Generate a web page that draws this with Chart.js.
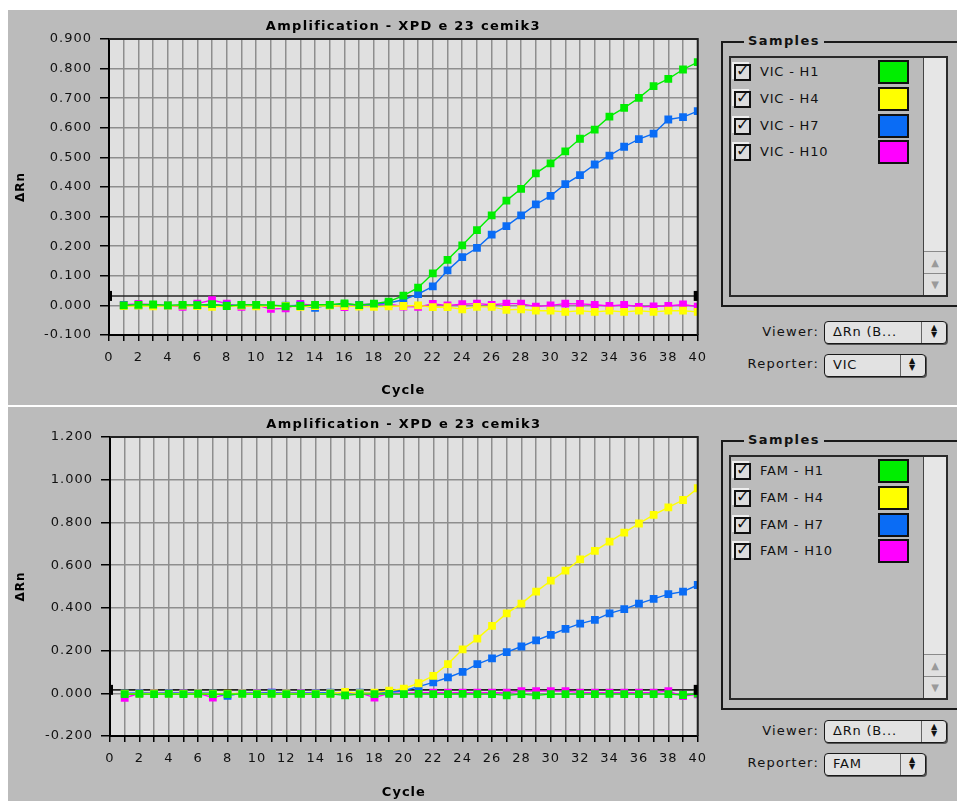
<!DOCTYPE html>
<html><head><meta charset="utf-8">
<script src="https://cdn.jsdelivr.net/npm/chart.js@4.4.1/dist/chart.umd.min.js"></script>
<style>
html,body{margin:0;padding:0;background:#fff;width:957px;height:801px;overflow:hidden;font-family:"DejaVu Sans",sans-serif;}
.panel{position:absolute;left:8px;width:949px;background:#bbbbbb;}
canvas{position:absolute;left:0;}
.group{position:absolute;border:2px solid #1a1a1a;border-right:none;box-sizing:border-box;}
.gtitle{position:absolute;font-weight:bold;font-size:13px;letter-spacing:1.4px;background:#bbbbbb;padding:0 4px;color:#111;line-height:16px;}
.list{position:absolute;border:2px solid #2a2a2a;box-sizing:border-box;}
.track{position:absolute;background:#e6e6e6;border-left:1px solid #444;box-sizing:border-box;}
.arrowbox{position:absolute;left:0;right:0;border-top:1px solid #8a8a8a;background:#e0e0e0;color:#9a9a9a;font-size:10px;text-align:center;box-sizing:border-box;}
.chk{position:absolute;width:17px;height:17px;border:2px solid #111;background:#dcdcdc;box-shadow:-2px -2px 0 #eee;box-sizing:border-box;}
.chk span{position:absolute;left:0px;top:-5px;font-size:16px;font-weight:bold;color:#111;}
.name{position:absolute;font-size:13px;letter-spacing:0.8px;color:#111;white-space:nowrap;line-height:16px;}
.sw{position:absolute;width:31px;height:24px;border:2px solid #111;box-sizing:border-box;}
.lab{position:absolute;font-size:13px;letter-spacing:1.2px;color:#111;text-align:right;width:90px;line-height:16px;}
.dd{position:absolute;border:1.5px solid #1a1a1a;border-radius:4px;background:#e2e2e2;box-shadow:1px 1px 0 #555;box-sizing:border-box;}
.dd .t{position:absolute;left:8px;top:2px;font-size:13px;letter-spacing:0.8px;color:#111;white-space:nowrap;line-height:16px;}
.dd .sep{position:absolute;top:0;bottom:0;border-left:1px solid #666;}
.dd .arr{position:absolute;top:2px;font-size:8px;line-height:7px;color:#111;text-align:center;width:10px;}
</style>
</head><body>
<div class="panel" style="top:10px;height:395px;"></div>
<div class="panel" style="top:407px;height:394px;"></div>
<canvas id="c1" style="top:0px;" width="715" height="404"></canvas>
<canvas id="c2" style="top:404px;" width="715" height="397"></canvas>
<div id="legends"></div>
<script>
// ---------------- DATA ----------------
const cycles = [1,2,3,4,5,6,7,8,9,10,11,12,13,14,15,16,17,18,19,20,21,22,23,24,25,26,27,28,29,30,31,32,33,34,35,36,37,38,39,40];
const chartTitle = "Amplification - XPD e 23 cemik3";
const yAxisTitle = "ΔRn";
const xAxisTitle = "Cycle";
const sampleWells = ["H1", "H4", "H7", "H10"];
const seriesColors = ["#00ee00", "#ffff00", "#0a6cf5", "#ff00ff"];

// VIC reporter (top panel)
const vicH1 = [0.000,0.002,0.003,0.000,0.002,0.001,0.004,-0.002,0.002,0.002,0.001,-0.003,-0.002,0.002,0.002,0.007,0.001,0.006,0.013,0.033,0.060,0.108,0.154,0.203,0.254,0.304,0.354,0.394,0.446,0.480,0.520,0.563,0.594,0.638,0.667,0.701,0.741,0.765,0.797,0.822];
const vicH4 = [-0.002,-0.001,-0.003,-0.001,-0.001,-0.002,-0.005,-0.002,-0.001,-0.003,-0.001,-0.002,-0.005,-0.002,-0.001,-0.002,-0.004,-0.005,-0.003,-0.002,0.000,-0.006,-0.006,-0.013,-0.005,-0.005,-0.015,-0.013,-0.018,-0.018,-0.022,-0.018,-0.022,-0.018,-0.022,-0.018,-0.022,-0.018,-0.018,-0.022];
const vicH7 = [0.001,0.000,0.001,0.000,0.000,0.001,0.002,0.000,0.001,0.001,0.000,-0.001,0.000,-0.008,0.002,0.003,0.002,0.004,0.008,0.019,0.038,0.064,0.118,0.163,0.194,0.239,0.268,0.304,0.341,0.370,0.410,0.440,0.476,0.506,0.536,0.562,0.580,0.628,0.636,0.656];
const vicH10 = [0.002,0.005,0.002,0.000,-0.005,0.006,0.018,0.006,-0.005,0.002,-0.012,-0.010,0.005,0.000,0.002,-0.006,0.002,0.004,0.005,-0.004,-0.005,0.005,0.000,0.004,0.006,0.002,0.006,0.006,-0.004,0.000,0.006,0.005,0.002,-0.002,0.002,-0.005,-0.003,-0.002,0.003,-0.004];
const vicThreshold = 0.032;
const vicYTicks = {min: -0.1, max: 0.9, step: 0.1};

// FAM reporter (bottom panel)
const famH1 = [-0.004,-0.003,-0.004,-0.003,-0.004,-0.003,-0.004,-0.004,-0.003,-0.004,-0.003,-0.004,-0.003,-0.004,-0.003,-0.010,-0.004,-0.004,-0.003,-0.004,-0.003,-0.004,-0.004,-0.003,-0.004,-0.004,-0.010,-0.004,-0.010,-0.004,-0.004,-0.004,-0.004,-0.003,-0.004,-0.004,-0.004,-0.004,-0.008,-0.002];
const famH4 = [-0.002,-0.002,-0.001,-0.002,-0.002,-0.001,-0.002,-0.002,-0.001,-0.002,-0.002,-0.001,-0.002,-0.002,-0.001,0.006,0.000,0.003,0.012,0.022,0.047,0.082,0.137,0.206,0.256,0.316,0.374,0.420,0.476,0.527,0.574,0.627,0.667,0.710,0.752,0.795,0.835,0.870,0.905,0.960];
const famH7 = [0.000,0.001,0.000,0.001,0.000,0.001,0.000,-0.012,0.001,0.000,0.003,0.001,0.000,0.001,0.003,0.001,0.003,0.002,0.005,0.012,0.031,0.051,0.074,0.100,0.137,0.163,0.193,0.219,0.248,0.274,0.302,0.326,0.344,0.374,0.394,0.420,0.442,0.464,0.476,0.507];
const famH10 = [-0.022,0.000,0.001,0.000,0.001,0.000,-0.020,-0.005,0.002,0.002,0.003,0.002,0.002,0.002,0.002,0.002,0.002,-0.020,0.000,0.000,0.003,0.003,0.003,0.003,0.003,0.003,0.003,0.010,0.010,0.010,0.010,0.003,0.003,0.003,0.003,0.003,0.003,0.010,-0.013,-0.005];
const famThreshold = 0.016;
const famYTicks = {min: -0.2, max: 1.2, step: 0.2};

const xRange = {min: 0, max: 40};

// ---------------- CHARTS ----------------
const plotBg = {
  id: 'plotBg',
  beforeDraw(chart) {
    const {ctx, chartArea: a} = chart;
    ctx.save();
    ctx.fillStyle = '#e0e0e0';
    ctx.fillRect(a.left, a.top, a.right - a.left, a.bottom - a.top);
    ctx.restore();
    ctx.letterSpacing = '1px';
  },
  afterDatasetsDraw(chart) {
    const {ctx, chartArea: a, scales} = chart;
    const th = chart.options.plugins.plotBg.threshold;
    ctx.save();
    ctx.strokeStyle = '#222';
    ctx.lineWidth = 2;
    ctx.beginPath();
    ctx.moveTo(a.left, a.top); ctx.lineTo(a.right, a.top); ctx.lineTo(a.right, a.bottom);
    ctx.stroke();
    const y = scales.y.getPixelForValue(th);
    const x0 = scales.x.getPixelForValue(xRange.min);
    const x1 = scales.x.getPixelForValue(xRange.max);
    ctx.fillStyle = '#000';
    ctx.fillRect(x0, y - 5, 3, 10);
    ctx.fillRect(x1 - 4, y - 5, 4, 10);
    ctx.restore();
  },
  afterDraw(chart) {
    const {ctx, chartArea: a} = chart;
    ctx.save();
    ctx.letterSpacing = '1.3px';
    ctx.font = 'bold 13px "DejaVu Sans"';
    ctx.fillStyle = '#000';
    ctx.textAlign = 'center';
    ctx.textBaseline = 'middle';
    ctx.fillText(chartTitle, (a.left + a.right) / 2, a.top - 12);
    ctx.restore();
    ctx.letterSpacing = '0px';
  }
};

function fmt3(v) {
  const n = Number(v);
  return (Math.abs(n) < 1e-9 ? 0 : n).toFixed(3);
}

function makeChart(id, series, threshold, yt, geom) {
  const datasets = series.map((vals, i) => ({
    label: sampleWells[i],
    data: cycles.map((c, k) => ({x: c, y: vals[k]})),
    borderColor: seriesColors[i],
    backgroundColor: seriesColors[i],
    borderWidth: 1.4,
    pointStyle: 'rect',
    pointRadius: 5.5,
    pointBorderWidth: 0,
    pointHoverRadius: 5.5,
    tension: 0,
    order: 0
  }));
  datasets.push({
    label: 'threshold',
    data: [{x: xRange.min, y: threshold}, {x: xRange.max, y: threshold}],
    borderColor: '#262626',
    borderWidth: 1.6,
    pointRadius: 0,
    order: 10
  });
  return new Chart(document.getElementById(id), {
    type: 'line',
    data: {datasets},
    options: {
      responsive: false,
      animation: false,
      events: [],
      layout: {padding: {top: geom.top, right: geom.right, left: 0, bottom: 0}},
      plugins: {
        legend: {display: false},
        tooltip: {enabled: false},
        title: {display: false},
        plotBg: {threshold}
      },
      scales: {
        x: {
          type: 'linear', min: xRange.min, max: xRange.max,
          afterFit(s) { s.height = geom.xh; },
          ticks: {
            stepSize: 1, autoSkip: false, maxRotation: 0, padding: geom.xpad,
            color: '#111', font: {family: 'DejaVu Sans', size: 13},
            callback: v => (v % 2 === 0 ? String(v) : '')
          },
          grid: {color: '#8e8e8e', lineWidth: 1.5, tickColor: '#000', tickLength: 6, tickWidth: 1.5},
          border: {color: '#000', width: 2},
          title: {display: true, text: xAxisTitle, color: '#000',
                  font: {family: 'DejaVu Sans', size: 13, weight: 'bold'},
                  padding: {top: 0, bottom: geom.xtpad}}
        },
        y: {
          type: 'linear', min: yt.min, max: yt.max,
          afterFit(s) { s.width = geom.left; },
          ticks: {
            stepSize: yt.step, padding: 8, color: '#111',
            font: {family: 'DejaVu Sans', size: 13},
            callback: v => fmt3(v)
          },
          grid: {color: '#8e8e8e', lineWidth: 1.5, tickColor: '#000', tickLength: 9, tickWidth: 1.5},
          border: {color: '#000', width: 2},
          title: {display: true, text: yAxisTitle, color: '#000',
                  font: {family: 'DejaVu Sans', size: 12, weight: 'bold'},
                  padding: {top: 14, bottom: 0}}
        }
      }
    },
    plugins: [plotBg]
  });
}

makeChart('c1', [vicH1, vicH4, vicH7, vicH10], vicThreshold, vicYTicks,
  {top: 39, right: 13, left: 109, xh: 69, xpad: 9, xtpad: 5.5});
makeChart('c2', [famH1, famH4, famH7, famH10], famThreshold, famYTicks,
  {top: 33, right: 13, left: 110, xh: 65, xpad: 9, xtpad: 1});

// ---------------- LEGEND PANELS ----------------
function buildPanel(dy, reporter, gh, lh) {
  const root = document.getElementById('legends');
  let h = '';
  h += `<div class="group" style="left:721px;top:${41+dy}px;width:236px;height:${gh}px;"></div>`;
  h += `<div class="gtitle" style="left:744px;top:${33+dy}px;">Samples</div>`;
  h += `<div class="list" style="left:729px;top:${56+dy}px;width:219px;height:${lh}px;">`;
  h += `<div class="track" style="left:192px;top:0;width:23px;bottom:0;">`;
  h += `<div class="arrowbox" style="bottom:22px;height:22px;line-height:21px;">&#9650;</div>`;
  h += `<div class="arrowbox" style="bottom:0;height:22px;line-height:21px;">&#9660;</div>`;
  h += `</div></div>`;
  sampleWells.forEach((w, i) => {
    const cy = 71.7 + dy + i * 26.9;
    h += `<div class="chk" style="left:734px;top:${cy-8}px;"><span>&#10003;</span></div>`;
    h += `<div class="name" style="left:760px;top:${cy-8}px;">${reporter} - ${w}</div>`;
    h += `<div class="sw" style="left:878px;top:${cy-12}px;background:${seriesColors[i]};"></div>`;
  });
  h += `<div class="lab" style="left:729px;top:${324+dy}px;">Viewer:</div>`;
  h += `<div class="dd" style="left:824px;top:${321+dy}px;width:123px;height:23px;"><div class="t">ΔRn (B...</div><div class="sep" style="left:96px;"></div><div class="arr" style="left:104px;">&#9650;<br>&#9660;</div></div>`;
  h += `<div class="lab" style="left:729px;top:${356+dy}px;">Reporter:</div>`;
  h += `<div class="dd" style="left:824px;top:${354+dy}px;width:102px;height:23px;"><div class="t">${reporter}</div><div class="sep" style="left:75px;"></div><div class="arr" style="left:82px;">&#9650;<br>&#9660;</div></div>`;
  root.insertAdjacentHTML('beforeend', h);
}
buildPanel(0, 'VIC', 266, 241);
buildPanel(399, 'FAM', 270, 245);
</script>
</body></html>
